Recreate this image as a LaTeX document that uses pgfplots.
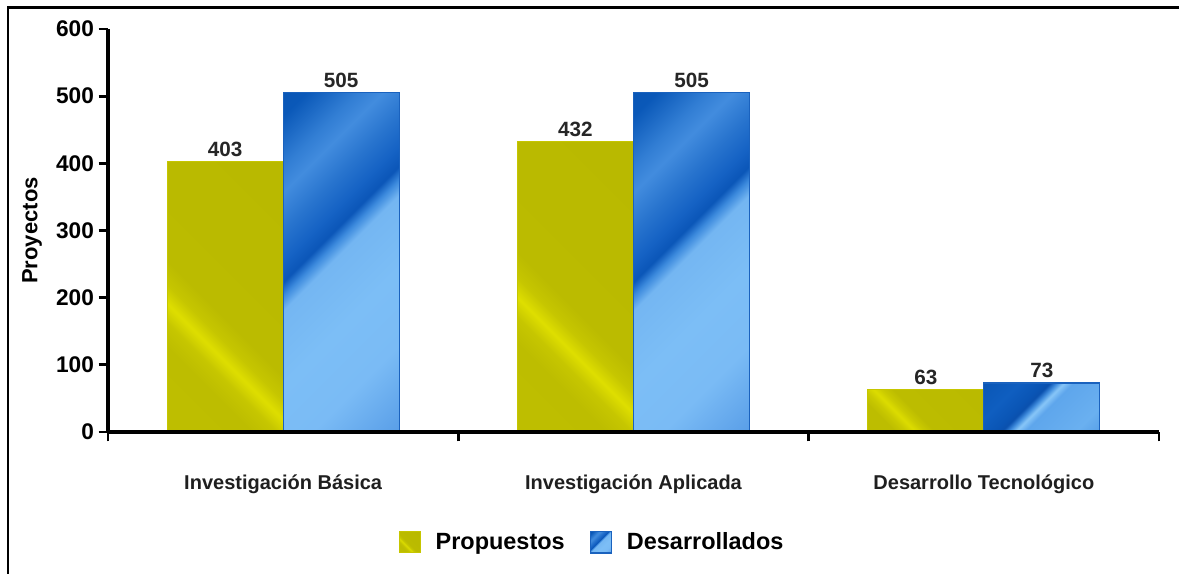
\documentclass[border=0pt]{standalone}
\usepackage{fontspec}
\setmainfont{Liberation Sans}
\usepackage{pgfplots}
\pgfplotsset{compat=1.18}

\definecolor{yE}{HTML}{C6C600}
\definecolor{bE}{HTML}{1A62BE}

\pgfdeclarehorizontalshading{yshade}{100bp}{color(0bp)=(rgb,255:red,192;green,192;blue,0); color(30bp)=(rgb,255:red,189;green,189;blue,0); color(34.5bp)=(rgb,255:red,198;green,198;blue,0); color(38bp)=(rgb,255:red,222;green,222;blue,0); color(41.5bp)=(rgb,255:red,198;green,198;blue,0); color(46bp)=(rgb,255:red,187;green,187;blue,0); color(100bp)=(rgb,255:red,184;green,184;blue,0)}
\pgfdeclarehorizontalshading{yshadeS}{100bp}{color(0bp)=(rgb,255:red,188;green,188;blue,0); color(27bp)=(rgb,255:red,189;green,189;blue,0); color(32bp)=(rgb,255:red,202;green,202;blue,0); color(36bp)=(rgb,255:red,220;green,220;blue,0); color(40bp)=(rgb,255:red,202;green,202;blue,0); color(45bp)=(rgb,255:red,188;green,188;blue,0); color(100bp)=(rgb,255:red,185;green,185;blue,0)}
\pgfdeclarehorizontalshading{bshade}{100bp}{color(0bp)=(rgb,255:red,6;green,80;blue,172); color(18bp)=(rgb,255:red,10;green,88;blue,184); color(26bp)=(rgb,255:red,50;green,126;blue,212); color(30bp)=(rgb,255:red,66;green,140;blue,222); color(36bp)=(rgb,255:red,40;green,116;blue,206); color(41bp)=(rgb,255:red,21;green,98;blue,196); color(44bp)=(rgb,255:red,11;green,86;blue,184); color(46bp)=(rgb,255:red,58;green,136;blue,220); color(48.5bp)=(rgb,255:red,116;green,182;blue,242); color(60bp)=(rgb,255:red,124;green,190;blue,246); color(72bp)=(rgb,255:red,122;green,187;blue,245); color(85bp)=(rgb,255:red,90;green,159;blue,232); color(100bp)=(rgb,255:red,53;green,128;blue,216)}
\pgfdeclarehorizontalshading{bshadeS}{100bp}{color(0bp)=(rgb,255:red,6;green,80;blue,172); color(30bp)=(rgb,255:red,15;green,94;blue,192); color(40bp)=(rgb,255:red,10;green,85;blue,181); color(43bp)=(rgb,255:red,10;green,80;blue,174); color(46bp)=(rgb,255:red,63;green,140;blue,221); color(49bp)=(rgb,255:red,136;green,198;blue,248); color(53bp)=(rgb,255:red,94;green,166;blue,236); color(75bp)=(rgb,255:red,106;green,176;blue,240); color(100bp)=(rgb,255:red,63;green,139;blue,221)}

\pgfplotsset{
  ystyle/.style={ybar, bar width=0.331, bar shift=0pt, draw=yE, line width=0.8pt, shading=yshade, shading angle=45,
    legend image code/.code={\draw[##1] (0pt,-7.9pt) rectangle (15.75pt,7.9pt);}},
  bstyle/.style={ybar, bar width=0.331, bar shift=0pt, draw=bE, line width=0.9pt, shading=bshade, shading angle=-45,
    legend image code/.code={\draw[##1] (0pt,-7.9pt) rectangle (15.75pt,7.9pt);}},
}

\begin{document}
\begin{tikzpicture}
\useasboundingbox (0,0) rectangle (884.25pt,430.5pt);
\fill[white] (0,0) rectangle (884.25pt,430.5pt);
\draw[line width=1.9pt] (6pt,0) -- (6pt,424.9pt) -- (884.25pt,424.9pt);
\begin{axis}[
  at={(81pt,106.5pt)}, anchor=south west,
  scale only axis, width=788.25pt, height=302.25pt,
  xmin=0, xmax=3, ymin=0, ymax=600,
  axis x line*=bottom, axis y line*=left,
  axis line style={line width=2.8pt, black},
  axis on top,
  tick align=outside,
  major tick length=7pt,
  tick style={black, line width=2.2pt},
  ytick={0,100,...,600},
  /pgf/number format/assume math mode=true,
  yticklabel style={font=\fontsize{17}{20}\selectfont\bfseries},
  xtick={0,1,2,3},
  xticklabels={,,,},
  extra x ticks={0.5,1.5,2.5},
  extra x tick labels={Investigación Básica, Investigación Aplicada, Desarrollo Tecnológico},
  extra x tick style={major tick length=0pt, tick style={draw=none},
    xticklabel style={font=\fontsize{15}{18}\selectfont\bfseries, text=black!88, anchor=base, yshift=-43.5pt}},
  ylabel={Proyectos},
  ylabel style={at={(axis description cs:-0.0672,0.5)}, anchor=base, font=\fontsize{16.5}{19}\selectfont\bfseries},
  nodes near coords,
  nodes near coords style={font=\fontsize{15.5}{18}\selectfont\bfseries, text=black!85},
  legend style={at={(axis description cs:0.461,-0.274)}, anchor=center, draw=none, fill=none,
    legend columns=2, font=\fontsize{17.6}{20}\selectfont\bfseries,
    /tikz/every odd column/.append style={column sep=9pt},
    /tikz/every even column/.append style={column sep=17pt}},
]
\addplot[ystyle] coordinates {(0.3344,403)};
\addlegendentry{Propuestos}
\addplot[bstyle] coordinates {(0.6656,505)};
\addlegendentry{Desarrollados}
\addplot[ystyle, forget plot] coordinates {(1.3344,432)};
\addplot[ystyle, shading=yshadeS, forget plot] coordinates {(2.3344,63)};
\addplot[bstyle, forget plot] coordinates {(1.6656,505)};
\addplot[bstyle, shading=bshadeS, forget plot] coordinates {(2.6656,73)};
\end{axis}
\end{tikzpicture}
\end{document}
